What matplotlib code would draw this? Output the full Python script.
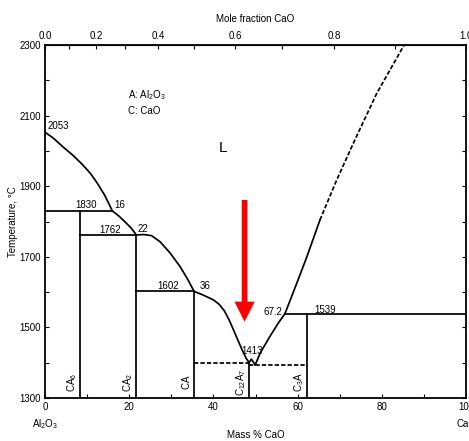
import matplotlib
matplotlib.use("Agg")
import matplotlib.pyplot as plt
import numpy as np
from matplotlib.patches import FancyArrow

plt.rcParams["font.family"] = ["Liberation Sans", "DejaVu Sans"]
plt.rcParams["font.size"] = 7

# --- data (mass % CaO, temperature in C) ---
liq_left_mass = [0, 2.0, 4.3, 6.7, 9.0, 10.8, 12.4, 14.2, 16.0, 17.6, 19.0, 20.5, 21.7,
                 23.5, 25.3, 27.3, 29.7, 32.1, 34.0, 35.4, 37.5, 40.0, 41.4, 42.6, 43.7,
                 44.7, 45.7, 46.8, 47.8, 48.5, 49.0, 49.6, 49.9, 51.1, 53.4, 55.4, 57.0]
liq_left_T = [2053, 2036, 2011, 1987, 1960, 1936, 1909, 1874, 1830, 1815, 1799, 1781, 1762,
              1763, 1760, 1743, 1711, 1672, 1634, 1602, 1592, 1578, 1565, 1547, 1522,
              1495, 1467, 1437, 1412, 1400, 1410, 1400, 1393, 1427, 1474, 1512, 1539]
liq_right_mass = [57.0, 59.8, 62.2, 65.3]
liq_right_T = [1539, 1625, 1700, 1804]
liq_dash_mass = [65.3, 69.3, 73.6, 78.8, 85.3]
liq_dash_T = [1804, 1918, 2031, 2163, 2300]

# compounds: name, mass % CaO, top of the vertical line
compounds = ["CA_6", "CA_2", "CA", "C_{12}A_7", "C_3A"]
compound_mass = [8.4, 21.7, 35.4, 48.5, 62.3]
compound_top = [1830, 1762, 1602, 1400, 1539]

# horizontal invariant lines: T, x-start, x-end
inv_T = [1830, 1762, 1602, 1539]
inv_x0 = [0, 8.4, 21.7, 57.0]
inv_x1 = [16.0, 21.7, 35.4, 100]
eut_T = [1400, 1393]
eut_x0 = [35.4, 48.5]
eut_x1 = [48.5, 62.3]

# point labels: text, x, y
pt_labels = ["2053", "1830", "16", "1762", "22", "1602", "36", "1413", "67.2", "1539"]
pt_x = [3.2, 9.7, 17.8, 15.4, 23.3, 29.3, 38.0, 49.2, 54.2, 66.5]
pt_y = [2071, 1847, 1847, 1776, 1778, 1616, 1616, 1434, 1545, 1549]

M_CAO, M_AL2O3 = 56.08, 101.96


def mass_to_mole(w):
    w = np.asarray(w, dtype=float)
    nc = w / M_CAO
    na = (100 - w) / M_AL2O3
    return nc / (nc + na)


def mole_to_mass(x):
    x = np.asarray(x, dtype=float)
    return 100 * x * M_CAO / (x * M_CAO + (1 - x) * M_AL2O3)


fig = plt.figure(figsize=(4.69, 4.41), dpi=100)
ax = fig.add_axes([45 / 469, 43 / 441, 421 / 469, 353 / 441])
ax.set_xlim(0, 100)
ax.set_ylim(1300, 2300)

lw = 1.25
dash = (0, (2.5, 1.2))
ax.plot(liq_left_mass, liq_left_T, color="black", lw=lw)
ax.plot(liq_right_mass, liq_right_T, color="black", lw=lw)
ax.plot(liq_dash_mass, liq_dash_T, color="black", lw=lw, ls=dash)
for t, a, b in zip(inv_T, inv_x0, inv_x1):
    ax.plot([a, b], [t, t], color="black", lw=lw)
for t, a, b in zip(eut_T, eut_x0, eut_x1):
    ax.plot([a, b], [t, t], color="black", lw=lw, ls=dash)
for name, m, top in zip(compounds, compound_mass, compound_top):
    ax.plot([m, m], [1300, top], color="black", lw=lw)
    ax.text(m - 1.9, 1345, r"$\mathregular{" + name + "}$", rotation=90,
            ha="center", va="center", fontsize=7)

for s, x, y in zip(pt_labels, pt_x, pt_y):
    ax.text(x, y, s, ha="center", va="center", fontsize=7)

ax.text(19.7, 2158, r"A: $\mathregular{Al_2O_3}$", ha="left", va="center", fontsize=7)
ax.text(19.7, 2112, "C: CaO", ha="left", va="center", fontsize=7)
ax.text(42.2, 2008, "L", ha="center", va="center", fontsize=11)

# red arrow pointing at the C12A7 region
ax.add_patch(FancyArrow(47.4, 1861, 0, -345, width=1.35, head_width=4.8,
                        head_length=57, length_includes_head=True,
                        color="#ff0000", lw=0))

ax.set_xticks(np.arange(0, 101, 20))
ax.set_xticks(np.arange(0, 101, 10), minor=True)
ax.set_yticks(np.arange(1300, 2301, 200))
ax.set_yticks(np.arange(1300, 2301, 100), minor=True)
ax.tick_params(which="both", direction="in", right=True, top=False, length=3,
               width=0.8, labelsize=7, pad=3)
ax.set_ylabel("Temperature, °C", fontsize=7)
ax.yaxis.set_label_coords(-0.063, 0.5)
ax.set_xlabel("Mass % CaO", fontsize=7, labelpad=13)
ax.text(0, -0.075, r"$\mathregular{Al_2O_3}$", transform=ax.transAxes,
        ha="center", va="center", fontsize=7)
ax.text(1, -0.075, "CaO", transform=ax.transAxes, ha="center", va="center", fontsize=7)
for sp in ax.spines.values():
    sp.set_linewidth(1.3)

top = ax.secondary_xaxis("top", functions=(mass_to_mole, mole_to_mass))
top.set_xticks(np.arange(0, 1.01, 0.2))
top.set_xticks(np.arange(0.1, 1.0, 0.2), minor=True)
top.set_xticklabels([f"{v:.1f}" for v in np.arange(0, 1.01, 0.2)])
top.tick_params(which="both", direction="in", length=3, width=0.8, labelsize=7, pad=3)
top.set_xlabel("Mole fraction CaO", fontsize=7, labelpad=6)

fig.savefig("out.png", dpi=100)
